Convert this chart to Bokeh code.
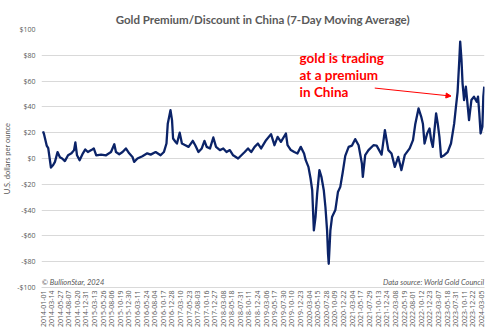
import numpy as np
import pandas as pd
from bokeh.plotting import figure
from bokeh.models import (Range1d, FixedTicker, Label, Arrow, NormalHead, Title)
from bokeh.embed import file_html
from bokeh.resources import INLINE

# ---- data ----
dates = [
    "2014-01-01", "2014-01-09", "2014-02-01", "2014-02-14", "2014-03-09", "2014-03-28", "2014-04-12",
    "2014-05-04", "2014-05-24", "2014-06-12", "2014-07-05", "2014-08-01", "2014-08-30", "2014-09-21",
    "2014-10-02", "2014-10-16", "2014-11-07", "2014-12-05", "2014-12-25", "2015-01-16", "2015-02-14",
    "2015-03-07", "2015-03-28", "2015-05-08", "2015-06-19", "2015-07-31", "2015-08-28", "2015-09-11",
    "2015-10-09", "2015-11-06", "2015-12-04", "2016-01-01", "2016-01-29", "2016-02-12", "2016-03-11",
    "2016-04-22", "2016-06-02", "2016-07-01", "2016-08-12", "2016-09-23", "2016-10-21", "2016-11-12",
    "2016-11-23", "2016-12-16", "2016-12-29", "2017-01-07", "2017-01-27", "2017-02-09", "2017-03-04",
    "2017-03-23", "2017-04-21", "2017-05-18", "2017-06-23", "2017-07-14", "2017-08-10", "2017-09-07",
    "2017-09-30", "2017-10-19", "2017-11-16", "2017-12-14", "2018-01-06", "2018-02-08", "2018-03-08",
    "2018-04-05", "2018-05-03", "2018-05-31", "2018-07-12", "2018-08-09", "2018-09-06", "2018-10-04",
    "2018-10-31", "2018-11-29", "2018-12-27", "2019-01-23", "2019-03-06", "2019-04-17", "2019-05-16",
    "2019-06-12", "2019-07-10", "2019-08-21", "2019-09-04", "2019-10-02", "2019-10-31", "2019-11-27",
    "2019-12-25", "2020-01-22", "2020-02-05", "2020-02-28", "2020-03-17", "2020-03-31", "2020-04-14",
    "2020-04-28", "2020-05-12", "2020-05-31", "2020-06-17", "2020-07-07", "2020-07-21", "2020-08-04",
    "2020-08-12", "2020-08-18", "2020-09-01", "2020-09-15", "2020-10-13", "2020-11-04", "2020-11-24",
    "2020-12-14", "2021-01-05", "2021-02-03", "2021-03-03", "2021-03-30", "2021-04-28", "2021-05-26",
    "2021-06-03", "2021-06-23", "2021-07-21", "2021-09-01", "2021-09-28", "2021-11-09", "2021-12-07",
    "2022-01-05", "2022-02-01", "2022-03-01", "2022-03-30", "2022-04-26", "2022-05-24", "2022-07-05",
    "2022-08-02", "2022-08-22", "2022-09-18", "2022-10-11", "2022-10-25", "2022-11-08", "2022-11-30",
    "2022-12-20", "2023-01-03", "2023-01-17", "2023-02-14", "2023-02-28", "2023-03-14", "2023-03-28",
    "2023-04-24", "2023-05-23", "2023-06-20", "2023-07-17", "2023-08-01", "2023-08-15", "2023-08-28",
    "2023-09-06", "2023-09-17", "2023-09-26", "2023-10-09", "2023-10-24", "2023-11-12", "2023-11-20",
    "2023-12-10", "2024-01-01", "2024-01-24", "2024-02-04", "2024-02-15", "2024-02-26", "2024-03-12",
    "2024-03-20", "2024-03-28",
]
premium = [
    21, 19, 10, 8, -7, -5, -2.6,
    5, 1, 0, -2, 2.5, 4, 6.5,
    12.4, 2.5, -1.3, 4, 7, 5, 6.5,
    7.8, 2.5, 3, 2.5, 5, 11, 5,
    3.3, 5, 7.8, 4, 1.2, -2.6, 0,
    1.8, 4, 3, 5, 2.5, 5, 11.6,
    27, 37.5, 29.8, 15.5, 13, 11.6, 20,
    11.6, 10.3, 9, 13.7, 10.3, 5, 7.8,
    13.7, 9, 7.8, 16.3, 9, 6.5, 7.8,
    5, 6.5, 2.5, 0, 2.5, 5, 7.8,
    5, 9, 11.6, 7.8, 14.2, 18.9, 10.3,
    16.8, 12.9, 19.4, 10.3, 6.5, 5, 3.9,
    9, 3.9, -1.3, -6.5, -15.5, -24.6, -55.7,
    -45.4, -27.2, -9, -14.2, -24.6, -37.6, -55.7,
    -73.8, -81.6, -55.7, -45.4, -40, -26, -22,
    -11, 2, 9, 10, 15, 10.3, -3.9,
    -14.2, 2.6, 6.5, 10.3, 10, 3, 22,
    6.5, 3.9, -6.5, 1.2, -9, 2.6, 7.8,
    14.2, 27, 38.8, 32.3, 27, 11.6, 19.4,
    23.3, 14.2, 9, 35, 27, 16.8, 1.2,
    2.6, 5, 11.6, 27, 40, 51.7, 73.8,
    90.6, 76.4, 58.3, 45.3, 55.7, 37.5, 29.8,
    45.3, 47.9, 44, 48, 35, 19.4, 24.6,
    47.9, 55.7,
]

tick_dates = [
    "2014-01-01", "2014-03-14", "2014-05-27", "2014-08-07", "2014-10-20", "2014-12-31",
    "2015-03-13", "2015-05-26", "2015-08-06", "2015-10-19", "2015-12-30", "2016-03-11",
    "2016-05-24", "2016-08-04", "2016-10-17", "2016-12-28", "2017-03-10", "2017-05-23",
    "2017-08-03", "2017-10-16", "2017-12-27", "2018-03-08", "2018-05-18", "2018-07-31",
    "2018-10-11", "2018-12-24", "2019-03-06", "2019-05-17", "2019-07-30", "2019-10-10",
    "2019-12-23", "2020-03-04", "2020-05-15", "2020-07-28", "2020-10-09", "2020-12-22",
    "2021-03-04", "2021-05-17", "2021-07-29", "2021-10-13", "2021-12-24", "2022-03-08",
    "2022-05-19", "2022-08-01", "2022-10-12", "2022-12-23", "2023-03-07", "2023-05-18",
    "2023-07-31", "2023-10-11", "2023-12-22", "2024-03-05",
]
y_ticks = [-100, -80, -60, -40, -20, 0, 20, 40, 60, 80, 100]

title_text = "Gold Premium/Discount in China (7-Day Moving Average)"
note_lines = ["gold is trading", "at a premium", "in China"]


def ms(d):
    return pd.Timestamp(d).value / 1e6


xs = [ms(d) for d in dates]
tick_ms = [ms(d) for d in tick_dates]

GREY = "#595959"

p = figure(width=485, height=331, output_backend="svg", toolbar_location=None,
           x_range=Range1d(ms("2013-12-19"), ms("2024-03-30")),
           y_range=Range1d(-100, 100),
           min_border_left=37, min_border_right=1, min_border_top=29, min_border_bottom=44)

p.title = Title(text=title_text, align="center", text_font="Lato", text_font_size="11.5px",
                text_font_style="bold", text_color=GREY, offset=0, standoff=8)
p.outline_line_color = None
p.background_fill_color = "white"
p.border_fill_color = "white"

p.line(xs, premium, line_color="#0b2368", line_width=2.3, line_join="round")

# axes
p.xaxis.ticker = FixedTicker(ticks=tick_ms)
p.xaxis.major_label_overrides = {t: d for t, d in zip(tick_ms, tick_dates)}
p.xaxis.major_label_orientation = np.pi / 2
p.xaxis.major_label_text_font = "Open Sans"
p.xaxis.major_label_text_font_size = "7px"
p.xaxis.major_label_text_color = GREY
p.xaxis.major_label_standoff = 3
p.xaxis.major_tick_line_color = None
p.xaxis.minor_tick_line_color = None
p.xaxis.major_tick_out = 0
p.xaxis.minor_tick_out = 0
p.xaxis.axis_line_color = "#d9d9d9"

p.yaxis.ticker = FixedTicker(ticks=y_ticks)
p.yaxis.major_label_overrides = {v: (f"-${-v}" if v < 0 else f"${v}") for v in y_ticks}
p.yaxis.major_label_text_font = "Open Sans"
p.yaxis.major_label_text_font_size = "7px"
p.yaxis.major_label_text_color = GREY
p.yaxis.major_label_standoff = 6
p.yaxis.major_tick_line_color = None
p.yaxis.minor_tick_line_color = None
p.yaxis.major_tick_out = 0
p.yaxis.minor_tick_out = 0
p.yaxis.axis_line_color = None
p.yaxis.axis_label = "U.S. dollars per ounce"
p.yaxis.axis_label_text_font = "Lato"
p.yaxis.axis_label_text_font_size = "7.5px"
p.yaxis.axis_label_text_font_style = "normal"
p.yaxis.axis_label_text_color = GREY
p.yaxis.axis_label_standoff = 2

p.xgrid.grid_line_color = None
p.ygrid.grid_line_color = "#d9d9d9"
p.ygrid.grid_line_width = 1

# footnotes
p.add_layout(Label(x=ms("2013-12-22"), y=-96.5, text="© BullionStar, 2024", text_font="Lato",
                   text_font_size="7.5px", text_font_style="italic", text_color=GREY,
                   text_baseline="middle", text_align="left"))
p.add_layout(Label(x=ms("2024-03-28"), y=-96.5, text="Data source: World Gold Council",
                   text_font="Lato", text_font_size="7.5px", text_font_style="italic",
                   text_color=GREY, text_baseline="middle", text_align="right"))

# red note
for txt, yv in zip(note_lines, [77.9, 64.7, 51.5]):
    p.add_layout(Label(x=ms("2019-12-15"), y=yv, text=txt, text_font="Lato",
                       text_font_size="13.5px", text_font_style="bold", text_color="#ff0000",
                       text_baseline="middle", text_align="left"))

p.add_layout(Arrow(end=NormalHead(size=5, fill_color="#ff0000", line_color="#ff0000"),
                   x_start=ms("2021-09-12"), y_start=54.6,
                   x_end=ms("2023-06-20"), y_end=48.4,
                   line_color="#ff0000", line_width=1))

open("out.html", "w").write(file_html(p, INLINE))
